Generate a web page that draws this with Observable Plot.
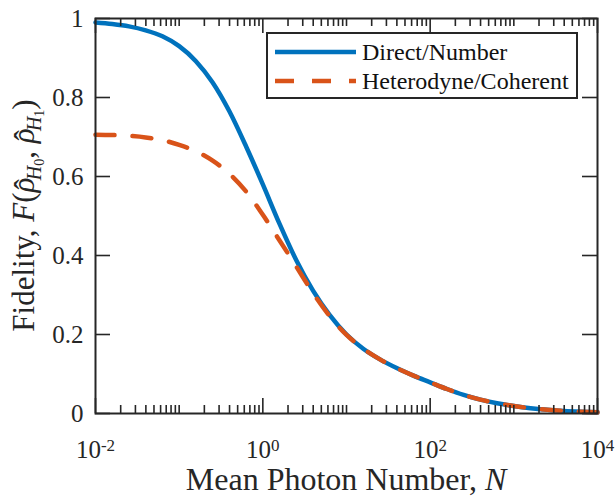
<!DOCTYPE html>
<html>
<head>
<meta charset="utf-8">
<script src="https://cdn.jsdelivr.net/npm/d3@7"></script>
<script src="https://cdn.jsdelivr.net/npm/@observablehq/plot@0.6"></script>
<style>
  html, body { margin: 0; padding: 0; background: #fff; }
  svg { display: block; }
</style>
</head>
<body>
<div id="chart"></div>
<script>
// ---- data ----
// x grid as log10 of mean photon number N
const logN = [-2.0, -1.8, -1.6, -1.4, -1.2, -1.0, -0.8, -0.6, -0.4, -0.2, 0.0, 0.2, 0.4, 0.6, 0.8, 1.0, 1.2, 1.4, 1.6, 1.8, 2.0, 2.2, 2.4, 2.6, 2.8, 3.0, 3.2, 3.4, 3.6, 3.8, 4.0];
const directNumber = [0.990, 0.986, 0.980, 0.970, 0.955, 0.930, 0.892, 0.838, 0.765, 0.676, 0.580, 0.480, 0.388, 0.311, 0.249, 0.200, 0.164, 0.137, 0.115, 0.096, 0.079, 0.062, 0.047, 0.035, 0.026, 0.019, 0.0135, 0.0095, 0.0065, 0.0045, 0.003];
const heterodyneCoherent = [0.706, 0.705, 0.703, 0.699, 0.692, 0.680, 0.664, 0.640, 0.607, 0.562, 0.503, 0.438, 0.372, 0.305, 0.246, 0.199, 0.164, 0.137, 0.115, 0.096, 0.079, 0.062, 0.047, 0.035, 0.026, 0.019, 0.0135, 0.0095, 0.0065, 0.0045, 0.003];
const seriesNames = ["Direct/Number", "Heterodyne/Coherent"];

const xMajorTicks = [1e-2, 1e0, 1e2, 1e4];
const xTickExponents = ["-2", "0", "2", "4"];
const yTicks = [0, 0.2, 0.4, 0.6, 0.8, 1];
const yTickLabels = ["0", "0.2", "0.4", "0.6", "0.8", "1"];

// minor log ticks (2..9 in each decade, plus odd decades)
const xMinorTicks = [];
for (let e = -2; e < 4; e++) {
  for (let m = 1; m <= 9; m++) {
    if (m === 1 && e % 2 === 0) continue;
    xMinorTicks.push(m * Math.pow(10, e));
  }
}

const blueData = logN.map((e, i) => ({N: Math.pow(10, e), F: directNumber[i]}));
const redData = logN.map((e, i) => ({N: Math.pow(10, e), F: heterodyneCoherent[i]}));

const W = 616, H = 497;
const mL = 95, mR = 19, mT = 18, mB = 84;
const pw = W - mL - mR, ph = H - mT - mB;
const axisColor = "#262626";
const blue = "#0072BD", red = "#D95319";
const font = "'Liberation Serif', 'Times New Roman', serif";

// tick lengths converted to data units (inward ticks)
const majLen = 15, minLen = 8;
const yMaj = majLen / ph, yMin = minLen / ph;
const decPerPx = 6 / pw;
const xLeftEnd = Math.pow(10, -2 + majLen * decPerPx);
const xRightStart = Math.pow(10, 4 - majLen * decPerPx);
const tk = {stroke: axisColor, strokeWidth: 1.6};

const svg = Plot.plot({
  width: W, height: H,
  marginLeft: mL, marginRight: mR, marginTop: mT, marginBottom: mB,
  style: {fontFamily: font, background: "#fff", color: axisColor, overflow: "visible"},
  x: {type: "log", domain: [1e-2, 1e4]},
  y: {domain: [0, 1]},
  marks: [
    Plot.line(blueData, {x: "N", y: "F", stroke: blue, strokeWidth: 4.5, curve: "monotone-x"}),
    Plot.line(redData, {x: "N", y: "F", stroke: red, strokeWidth: 4.5, strokeDasharray: "19,18", curve: "monotone-x"}),
    // inward ticks on all four sides
    Plot.ruleX(xMajorTicks, {x: d => d, y1: 0, y2: yMaj, ...tk}),
    Plot.ruleX(xMajorTicks, {x: d => d, y1: 1 - yMaj, y2: 1, ...tk}),
    Plot.ruleX(xMinorTicks, {x: d => d, y1: 0, y2: yMin, ...tk}),
    Plot.ruleX(xMinorTicks, {x: d => d, y1: 1 - yMin, y2: 1, ...tk}),
    Plot.ruleY(yTicks, {y: d => d, x1: 1e-2, x2: xLeftEnd, ...tk}),
    Plot.ruleY(yTicks, {y: d => d, x1: xRightStart, x2: 1e4, ...tk}),
    Plot.axisX({ticks: xMajorTicks, tickSize: 0, tickPadding: 27, label: null, fontSize: 25,
      tickFormat: d => "10^" + xTickExponents[xMajorTicks.indexOf(d)]}),
    Plot.axisY({ticks: yTicks, tickSize: 0, tickPadding: 12, label: null, fontSize: 25,
      tickFormat: d => yTickLabels[yTicks.indexOf(d)]}),
    Plot.frame({stroke: axisColor, strokeWidth: 2})
  ]
});

document.getElementById("chart").appendChild(svg);
const s = d3.select(svg);

// superscript exponents on x tick labels
s.selectAll('g[aria-label="x-axis tick label"] text').each(function() {
  const t = d3.select(this);
  const parts = t.text().split("^");
  t.text(null);
  t.append("tspan").text(parts[0]);
  t.append("tspan").attr("dy", "-0.42em").attr("font-size", "17px").text(parts[1]);
});

// x axis label
const xl = s.append("text")
  .attr("x", mL + pw / 2).attr("y", 490)
  .attr("text-anchor", "middle").attr("font-size", 32).attr("fill", axisColor)
  .attr("font-family", font);
xl.append("tspan").text("Mean Photon Number, ");
xl.append("tspan").attr("font-style", "italic").text("N");

// y axis label
const yl = s.append("text")
  .attr("transform", `translate(34,${mT + ph / 2}) rotate(-90)`)
  .attr("text-anchor", "middle").attr("font-size", 31).attr("fill", axisColor)
  .attr("font-family", font);
function rhoHat(sub) {
  yl.append("tspan").attr("font-style", "italic").text("\u03C1");
  yl.append("tspan").attr("dx", -12).attr("dy", 2).text("\u02C6");
  yl.append("tspan").attr("font-style", "italic").attr("font-size", 20).attr("dy", 5).attr("dx", -1).text("H");
  yl.append("tspan").attr("font-size", 14).attr("dy", 3).text(sub);
}
yl.append("tspan").text("Fidelity, ");
yl.append("tspan").attr("font-style", "italic").text("F");
yl.append("tspan").text("(");
rhoHat("0");
yl.append("tspan").attr("dy", -10).text(", ");
rhoHat("1");
yl.append("tspan").attr("dy", -10).text(")");

// legend
const lg = s.append("g").attr("font-family", font);
lg.append("rect").attr("x", 267).attr("y", 33).attr("width", 310).attr("height", 65)
  .attr("fill", "#fff").attr("stroke", axisColor).attr("stroke-width", 2);
const rows = [{name: seriesNames[0], color: blue, dash: null, y: 52},
              {name: seriesNames[1], color: red, dash: "19,18", y: 81}];
rows.forEach(r => {
  const ln = lg.append("line").attr("x1", 275).attr("x2", 356).attr("y1", r.y).attr("y2", r.y)
    .attr("stroke", r.color).attr("stroke-width", 4.5);
  if (r.dash) ln.attr("stroke-dasharray", r.dash);
  lg.append("text").attr("x", 362).attr("y", r.y).attr("dy", "0.35em")
    .attr("text-anchor", "start")
    .attr("font-size", 24).attr("fill", "#111").text(r.name);
});
</script>
</body>
</html>
